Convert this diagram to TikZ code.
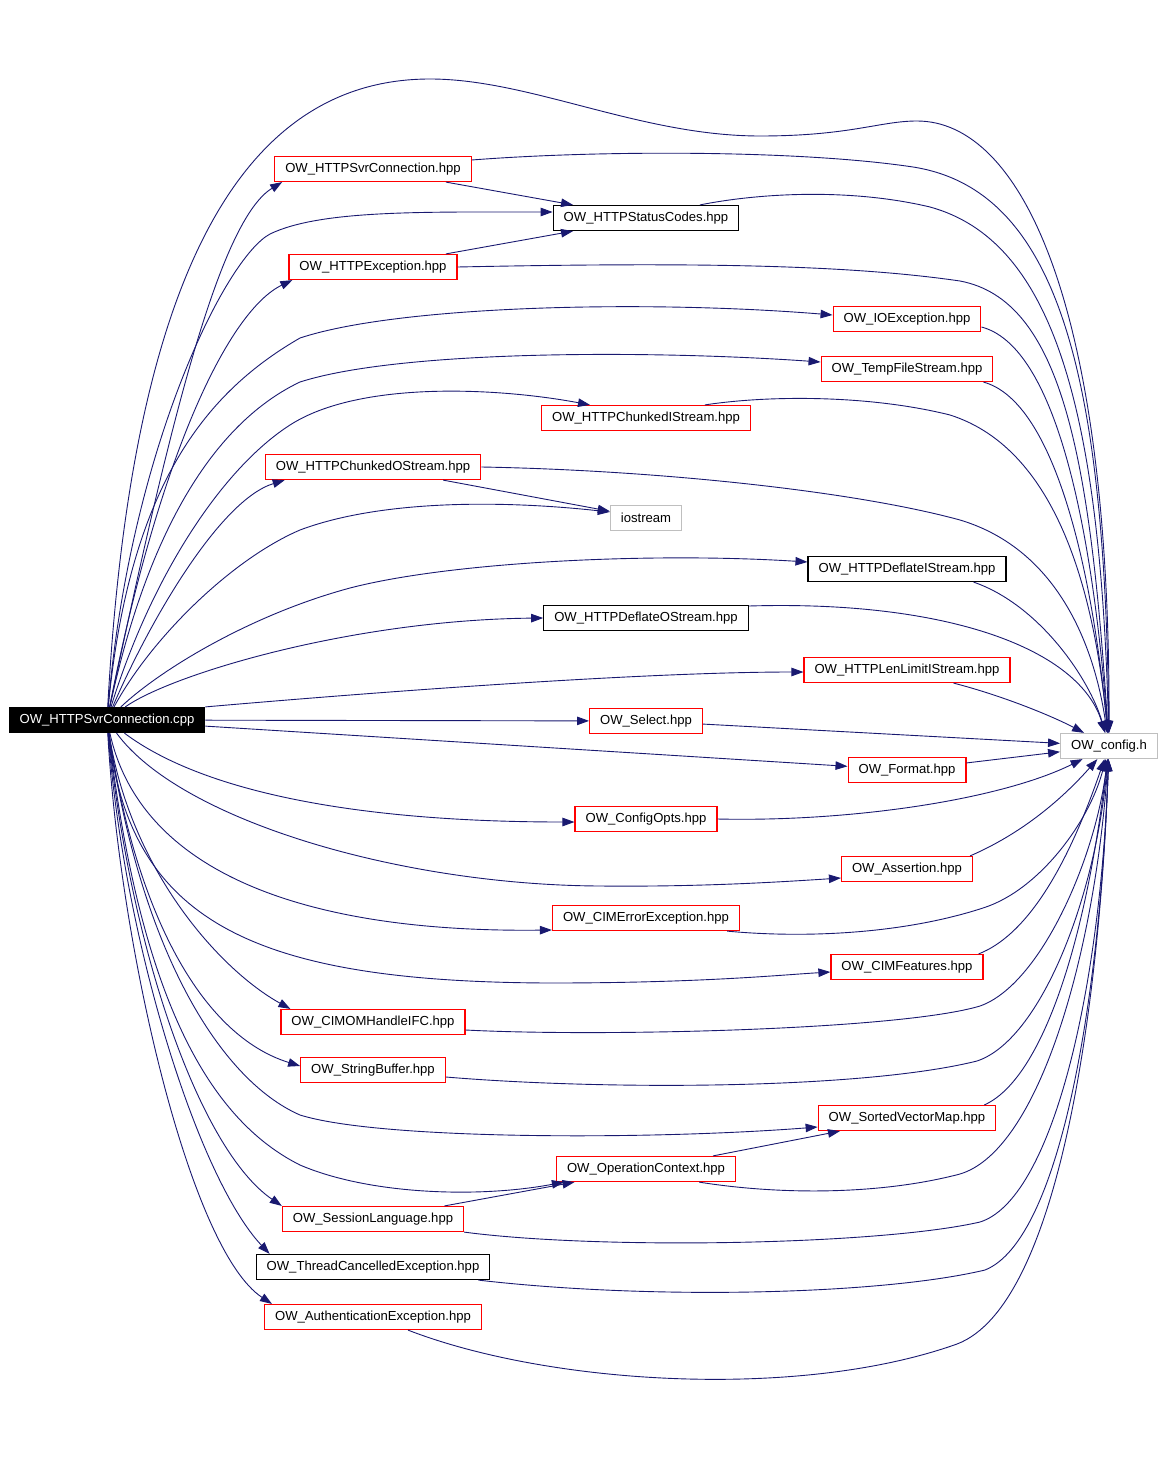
\documentclass[tikz,border=0pt]{standalone}
\usepackage{fontspec}
\setmainfont{Liberation Sans}
\usepackage{tikz}
\usetikzlibrary{arrows.meta}
\definecolor{navy}{HTML}{191970}
\definecolor{lightgrey}{HTML}{BFBFBF}

\begin{document}
\begin{tikzpicture}[x=1pt,y=-1pt,
    file/.style={draw,rectangle,line width=1.2pt,minimum height=25pt,inner xsep=10.5pt,inner ysep=0pt,font=\fontsize{13.1}{15}\selectfont},
    redfile/.style={file,draw=red},
    blackfile/.style={file,draw=black},
    sysfile/.style={file,draw=lightgrey},
    mainfile/.style={file,draw=black,fill=black,text=white},
    dep/.style={-{Triangle[length=12pt,width=8.5pt]},draw=navy,line width=0.9pt}]
    \useasboundingbox (0,0) rectangle (1165,1463);
    % files
    \node[mainfile] (cpp) at (107,720) {OW\_HTTPSvrConnection.cpp};
    \node[redfile] (svrhpp) at (373,169) {OW\_HTTPSvrConnection.hpp};
    \node[blackfile] (status) at (646,218) {OW\_HTTPStatusCodes.hpp};
    \node[redfile] (httpexc) at (373,267) {OW\_HTTPException.hpp};
    \node[redfile] (ioexc) at (907,319) {OW\_IOException.hpp};
    \node[redfile] (tempfile) at (907,369) {OW\_TempFileStream.hpp};
    \node[redfile] (chunki) at (646,418) {OW\_HTTPChunkedIStream.hpp};
    \node[redfile] (chunko) at (373,467) {OW\_HTTPChunkedOStream.hpp};
    \node[sysfile] (iostream) at (646,518) {iostream};
    \node[blackfile] (deflatei) at (907,569) {OW\_HTTPDeflateIStream.hpp};
    \node[blackfile] (deflateo) at (646,618) {OW\_HTTPDeflateOStream.hpp};
    \node[redfile] (lenlimit) at (907,670) {OW\_HTTPLenLimitIStream.hpp};
    \node[redfile] (select) at (646,721) {OW\_Select.hpp};
    \node[sysfile] (config) at (1109,746) {OW\_config.h};
    \node[redfile] (format) at (907,770) {OW\_Format.hpp};
    \node[redfile] (configopts) at (646,819) {OW\_ConfigOpts.hpp};
    \node[redfile] (assertion) at (907,869) {OW\_Assertion.hpp};
    \node[redfile] (cimerr) at (646,918) {OW\_CIMErrorException.hpp};
    \node[redfile] (cimfeat) at (907,967) {OW\_CIMFeatures.hpp};
    \node[redfile] (cimom) at (373,1022) {OW\_CIMOMHandleIFC.hpp};
    \node[redfile] (strbuf) at (373,1070) {OW\_StringBuffer.hpp};
    \node[redfile] (sortedmap) at (907,1118) {OW\_SortedVectorMap.hpp};
    \node[redfile] (opctx) at (646,1169) {OW\_OperationContext.hpp};
    \node[redfile] (sesslang) at (373,1219) {OW\_SessionLanguage.hpp};
    \node[blackfile] (threadc) at (373,1267) {OW\_ThreadCancelledException.hpp};
    \node[redfile] (authexc) at (373,1317) {OW\_AuthenticationException.hpp};

    % includes of the .cpp file
    \draw[dep] (cpp) .. controls (130,300) and (230,79) .. (430,79) .. controls (530,79) and (640,136) .. (760,136) .. controls (850,136) and (880,121) .. (917,121) .. controls (1020,121) and (1110,300) .. (config);
    \draw[dep] (cpp) .. controls (170,420) and (220,220) .. ([xshift=8pt]svrhpp.south west);
    \draw[dep] (cpp) .. controls (130,450) and (225,258) .. (270,234) .. controls (320,210) and (420,212) .. ([yshift=6pt]status.west);
    \draw[dep] (cpp) .. controls (160,450) and (230,310) .. ([xshift=4pt]httpexc.south west);
    \draw[dep] (cpp) .. controls (130,480) and (210,390) .. (300,338) .. controls (400,305) and (650,300) .. ([yshift=4pt]ioexc.west);
    \draw[dep] (cpp) .. controls (150,520) and (220,420) .. (300,382) .. controls (400,350) and (650,350) .. ([yshift=7pt]tempfile.west);
    \draw[dep] (cpp) .. controls (150,580) and (220,470) .. (290,425) .. controls (360,380) and (500,388) .. ([xshift=49pt]chunki.north west);
    \draw[dep] (cpp) .. controls (150,620) and (220,500) .. ([xshift=20pt]chunko.south west);
    \draw[dep] (cpp) .. controls (150,640) and (230,560) .. (300,530) .. controls (380,500) and (500,500) .. ([yshift=6pt]iostream.west);
    \draw[dep] (cpp) .. controls (160,670) and (250,615) .. (350,588) .. controls (450,562) and (650,552) .. ([yshift=7pt]deflatei.west);
    \draw[dep] (cpp) .. controls (170,675) and (350,620) .. (deflateo.west);
    \draw[dep] (cpp.north east) .. controls (400,690) and (650,672) .. ([yshift=-2pt]lenlimit.west);
    \draw[dep] (cpp) -- (select);
    \draw[dep] (cpp) -- (format);
    \draw[dep] (cpp) .. controls (200,790) and (350,822) .. ([yshift=-3pt]configopts.west);
    \draw[dep] (cpp) .. controls (180,820) and (400,885) .. (600,886) .. controls (700,887) and (780,882) .. ([yshift=-9pt]assertion.west);
    \draw[dep] (cpp) .. controls (140,870) and (300,933) .. ([yshift=-12pt]cimerr.west);
    \draw[dep] (cpp) .. controls (130,920) and (250,982) .. (550,983) .. controls (700,983) and (780,975) .. ([yshift=-5pt]cimfeat.west);
    \draw[dep] (cpp) .. controls (130,870) and (220,970) .. ([xshift=10pt]cimom.north west);
    \draw[dep] (cpp) .. controls (135,910) and (200,1035) .. ([yshift=4pt]strbuf.west);
    \draw[dep] (cpp) .. controls (140,950) and (220,1080) .. (300,1115) .. controls (380,1140) and (650,1140) .. ([yshift=-9pt]sortedmap.west);
    \draw[dep] (cpp) .. controls (140,1000) and (210,1120) .. (300,1165) .. controls (370,1195) and (480,1198) .. ([xshift=8pt]opctx.south west);
    \draw[dep] (cpp) .. controls (130,950) and (200,1150) .. (sesslang.north west);
    \draw[dep] (cpp) .. controls (125,950) and (200,1180) .. ([xshift=14pt]threadc.north west);
    \draw[dep] (cpp) .. controls (120,950) and (190,1250) .. ([xshift=8pt]authexc.north west);

    % between headers
    \draw[dep] (svrhpp) -- (status);
    \draw[dep] (httpexc) -- (status);
    \draw[dep] (chunko) -- (iostream);
    \draw[dep] (opctx) -- (sortedmap);
    \draw[dep] (sesslang) -- (opctx);

    % into OW_config.h
    \draw[dep] ([yshift=9pt]svrhpp.east) .. controls (600,150) and (800,150) .. (913,167) .. controls (1060,190) and (1105,380) .. (config);
    \draw[dep] ([xshift=54pt]status.north) .. controls (760,193) and (850,188) .. (930,207) .. controls (1050,240) and (1100,400) .. (config);
    \draw[dep] (httpexc.east) .. controls (700,262) and (850,265) .. (960,281) .. controls (1060,300) and (1090,450) .. (config);
    \draw[dep] ([yshift=-8pt]ioexc.east) .. controls (1050,345) and (1090,500) .. (config);
    \draw[dep] ([xshift=-10pt]tempfile.south east) .. controls (1050,400) and (1090,550) .. (config);
    \draw[dep] ([xshift=59pt]chunki.north) .. controls (770,395) and (870,395) .. (950,415) .. controls (1060,450) and (1095,600) .. (config);
    \draw[dep] (chunko.east) .. controls (650,470) and (850,490) .. (960,520) .. controls (1060,550) and (1095,650) .. (config);
    \draw[dep] ([xshift=-33pt]deflatei.south east) .. controls (1040,605) and (1090,680) .. (config);
    \draw[dep] ([yshift=12pt]deflateo.east) .. controls (950,600) and (1080,650) .. (config);
    \draw[dep] ([xshift=-57pt]lenlimit.south east) .. controls (1000,695) and (1050,715) .. (config);
    \draw[dep] (select) -- (config);
    \draw[dep] (format) -- (config);
    \draw[dep] (configopts.east) .. controls (850,822) and (1000,800) .. (config);
    \draw[dep] ([xshift=-3pt]assertion.north east) .. controls (1030,830) and (1070,790) .. (config);
    \draw[dep] ([xshift=-13pt]cimerr.south east) .. controls (800,938) and (900,935) .. (983,908) .. controls (1040,890) and (1090,820) .. (config);
    \draw[dep] ([xshift=-5pt]cimfeat.north east) .. controls (1040,930) and (1080,830) .. (config);
    \draw[dep] ([yshift=-8pt]cimom.east) .. controls (600,1037) and (900,1030) .. (980,1006) .. controls (1040,985) and (1095,860) .. (config);
    \draw[dep] ([yshift=-7pt]strbuf.east) .. controls (600,1090) and (860,1090) .. (977,1061) .. controls (1040,1040) and (1095,900) .. (config);
    \draw[dep] ([xshift=-12pt]sortedmap.north east) .. controls (1040,1080) and (1085,950) .. (config);
    \draw[dep] ([xshift=-37pt]opctx.south east) .. controls (780,1195) and (880,1195) .. (960,1174) .. controls (1040,1150) and (1095,950) .. (config);
    \draw[dep] (sesslang.south east) .. controls (600,1250) and (880,1245) .. (980,1222) .. controls (1050,1200) and (1100,1000) .. (config);
    \draw[dep] ([xshift=-12pt]threadc.south east) .. controls (650,1300) and (880,1295) .. (985,1270) .. controls (1060,1240) and (1100,1000) .. (config);
    \draw[dep] ([xshift=-74pt]authexc.south east) .. controls (550,1385) and (800,1400) .. (957,1344) .. controls (1060,1305) and (1100,1000) .. (config);
\end{tikzpicture}
\end{document}
